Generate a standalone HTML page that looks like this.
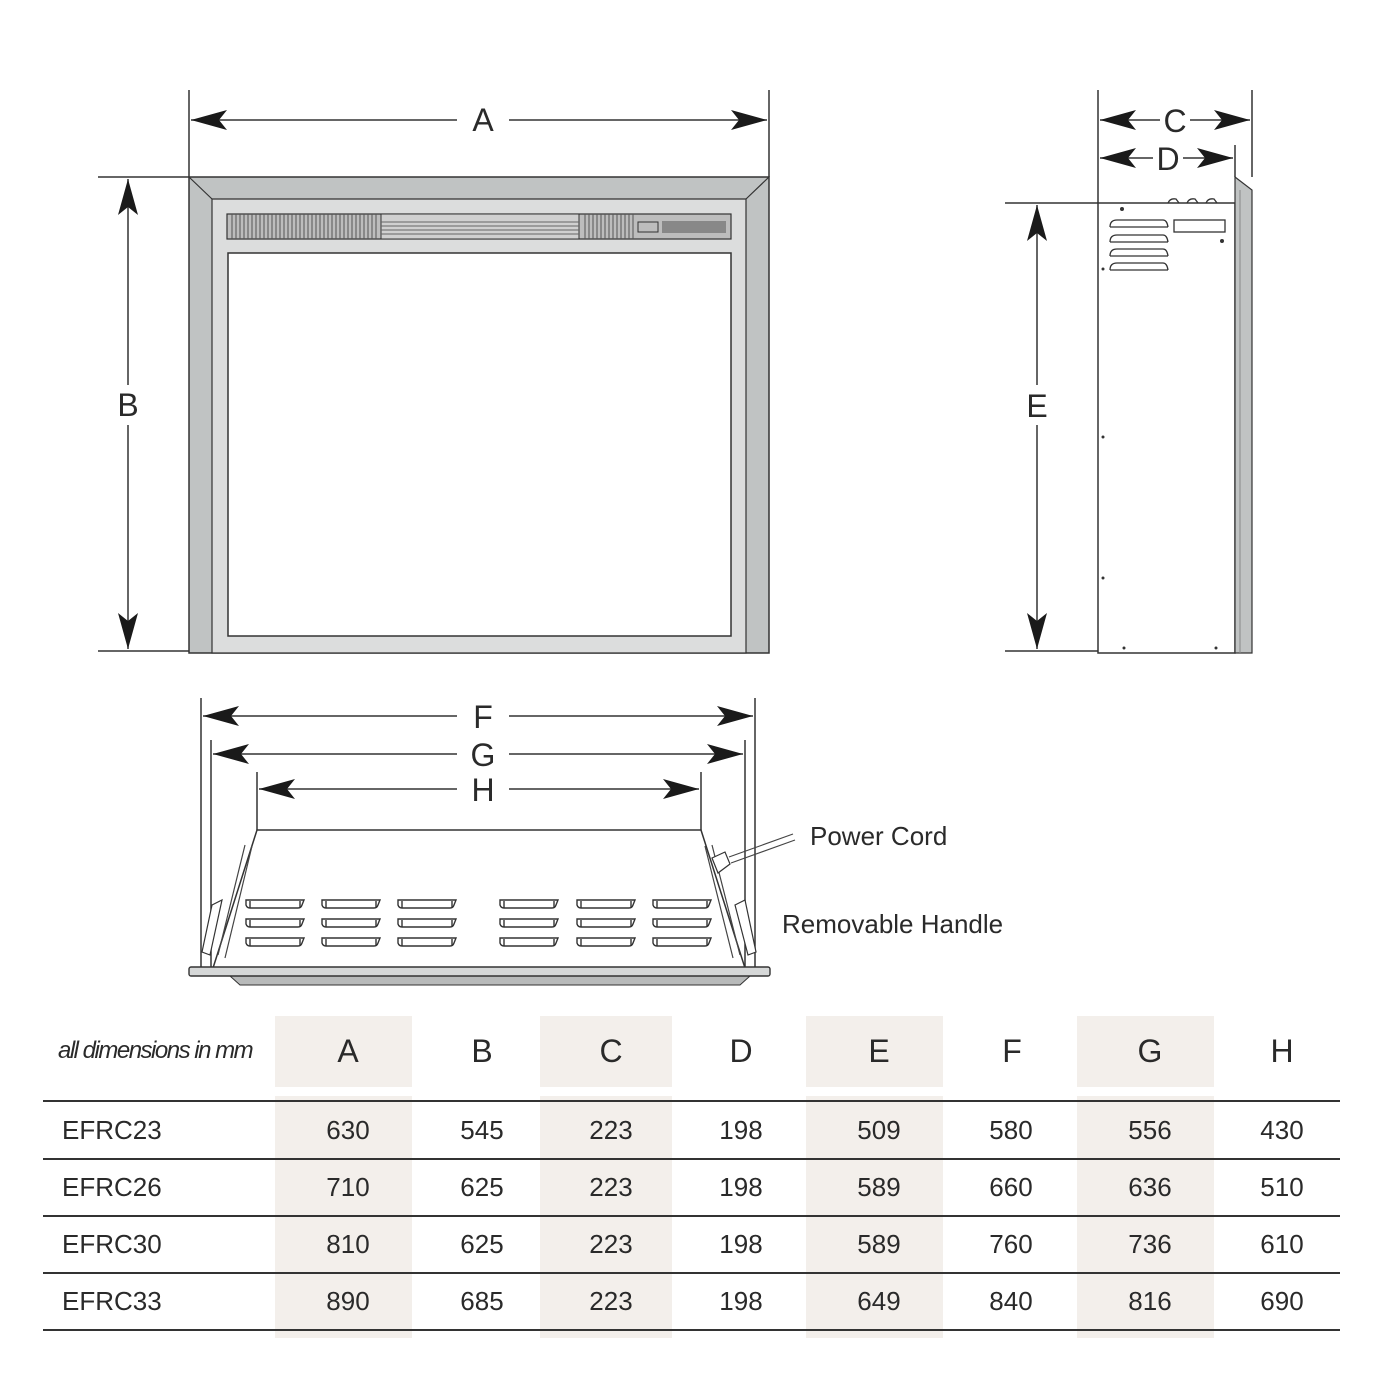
<!DOCTYPE html>
<html><head><meta charset="utf-8"><style>
html,body{margin:0;padding:0;background:#fff}
svg{display:block}
text{font-family:"Liberation Sans",sans-serif;fill:#2a2a2a}
</style></head><body>
<svg width="1400" height="1400" viewBox="0 0 1400 1400" xmlns="http://www.w3.org/2000/svg">
<defs>
<marker id="ar" markerUnits="userSpaceOnUse" markerWidth="40" markerHeight="24" refX="36" refY="12" orient="auto-start-reverse" viewBox="0 0 40 24">
<path d="M36,12 L0,2 L8,12 L0,22 Z" fill="#1a1a1a"/>
</marker>
</defs>
<g stroke="#333" stroke-width="1.5" fill="none">
<!-- A -->
<line x1="189" y1="90" x2="189" y2="177"/><line x1="769" y1="90" x2="769" y2="177"/>
<line x1="191" y1="120" x2="457" y2="120" marker-start="url(#ar)"/>
<line x1="509" y1="120" x2="767" y2="120" marker-end="url(#ar)"/>
<!-- B -->
<line x1="98" y1="177" x2="189" y2="177"/><line x1="98" y1="651" x2="189" y2="651"/>
<line x1="128" y1="179" x2="128" y2="385" marker-start="url(#ar)"/>
<line x1="128" y1="425" x2="128" y2="649" marker-end="url(#ar)"/>
<!-- C D -->
<line x1="1098" y1="90" x2="1098" y2="203"/><line x1="1252" y1="90" x2="1252" y2="177"/>
<line x1="1235" y1="145" x2="1235" y2="177"/>
<line x1="1100" y1="120" x2="1160" y2="120" marker-start="url(#ar)"/>
<line x1="1190" y1="120" x2="1250" y2="120" marker-end="url(#ar)"/>
<line x1="1100" y1="158" x2="1153" y2="158" marker-start="url(#ar)"/>
<line x1="1183" y1="158" x2="1233" y2="158" marker-end="url(#ar)"/>
<!-- E -->
<line x1="1005" y1="203" x2="1098" y2="203"/><line x1="1005" y1="651" x2="1098" y2="651"/>
<line x1="1037" y1="205" x2="1037" y2="385" marker-start="url(#ar)"/>
<line x1="1037" y1="425" x2="1037" y2="649" marker-end="url(#ar)"/>
<!-- F G H -->
<line x1="201" y1="698" x2="201" y2="968"/><line x1="755" y1="698" x2="755" y2="968"/>
<line x1="211" y1="740" x2="211" y2="968"/><line x1="745" y1="740" x2="745" y2="968"/>
<line x1="257" y1="772" x2="257" y2="830"/><line x1="701" y1="772" x2="701" y2="830"/>
<line x1="203" y1="716" x2="457" y2="716" marker-start="url(#ar)"/>
<line x1="509" y1="716" x2="753" y2="716" marker-end="url(#ar)"/>
<line x1="213" y1="754" x2="457" y2="754" marker-start="url(#ar)"/>
<line x1="509" y1="754" x2="743" y2="754" marker-end="url(#ar)"/>
<line x1="259" y1="789" x2="457" y2="789" marker-start="url(#ar)"/>
<line x1="509" y1="789" x2="699" y2="789" marker-end="url(#ar)"/>
</g>
<!-- front view -->
<rect x="189" y="177" width="580" height="476" fill="#c0c3c3" stroke="#333" stroke-width="1.5"/>
<polygon points="212,199 746,199 746,653 212,653" fill="#dcdddd" stroke="#333" stroke-width="1.2"/>
<line x1="189" y1="177" x2="212" y2="199" stroke="#333" stroke-width="1.2"/>
<line x1="769" y1="177" x2="746" y2="199" stroke="#333" stroke-width="1.2"/>
<rect x="227" y="214" width="504" height="25" fill="#bdbdbd" stroke="#333" stroke-width="1.2"/>
<g stroke="#555" stroke-width="1">
<path d="M232,214V239M236,214V239M240,214V239M244,214V239M248,214V239M252,214V239M256,214V239M260,214V239M264,214V239M268,214V239M272,214V239M276,214V239M280,214V239M284,214V239M288,214V239M292,214V239M296,214V239M300,214V239M304,214V239M308,214V239M312,214V239M316,214V239M320,214V239M324,214V239M328,214V239M332,214V239M336,214V239M340,214V239M344,214V239M348,214V239M352,214V239M356,214V239M360,214V239M364,214V239M368,214V239M372,214V239M376,214V239"/>
<path d="M585,214V239M589,214V239M593,214V239M597,214V239M601,214V239M605,214V239M609,214V239M613,214V239M617,214V239M621,214V239M625,214V239M629,214V239M633,214V239"/>
</g>
<rect x="381" y="214" width="198" height="25" fill="#d0d0d0" stroke="#333"/>
<g stroke="#666" stroke-width="1"><path d="M381,222H579M381,226H579M381,230H579M381,234H579"/></g>
<rect x="638" y="222" width="20" height="10" fill="none" stroke="#333"/>
<rect x="662" y="221" width="64" height="12" fill="#888"/>
<rect x="228" y="253" width="503" height="383" fill="#fff" stroke="#333" stroke-width="1.5"/>
<!-- side view -->
<rect x="1098" y="203" width="137" height="450" fill="#fff" stroke="#333" stroke-width="1.5"/>
<polygon points="1235,177 1252,190 1252,653 1235,653" fill="#c0c3c3" stroke="#333" stroke-width="1.2"/>
<line x1="1240" y1="190" x2="1240" y2="653" stroke="#888"/>
<g fill="none" stroke="#333" stroke-width="1.3">
<path d="M1110,227 q0,-7 7,-7 h46 q4,0 5,7 M1110,227 h58"/>
<path d="M1110,242 q0,-7 7,-7 h46 q4,0 5,7 M1110,242 h58"/>
<path d="M1110,256 q0,-7 7,-7 h46 q4,0 5,7 M1110,256 h58"/>
<path d="M1110,270 q0,-7 7,-7 h46 q4,0 5,7 M1110,270 h58"/>
<rect x="1174" y="220" width="51" height="12"/>
<path d="M1168,203 q2,-5 8,-4 l3,4 M1187,203 q2,-5 8,-4 l3,4 M1206,203 q2,-5 8,-4 l3,4"/>
</g>
<g fill="#333"><circle cx="1122" cy="209" r="2"/><circle cx="1222" cy="241" r="2"/><circle cx="1103" cy="269" r="1.5"/><circle cx="1103" cy="437" r="1.5"/><circle cx="1103" cy="578" r="1.5"/><circle cx="1124" cy="648" r="1.5"/><circle cx="1216" cy="648" r="1.5"/></g>
<!-- bottom view -->
<polygon points="257,830 701,830 745,968 213,968" fill="#fff" stroke="#333" stroke-width="1.5"/>
<g fill="none" stroke="#444" stroke-width="1.2">
<path d="M245,845 L218,955 M252,846 L225,958"/>
<path d="M712,845 L740,955 M705,846 L733,958"/>
</g>
<polygon points="212,905 222,900 210,955 202,952" fill="#fff" stroke="#333" stroke-width="1.2"/>
<polygon points="735,905 745,900 756,952 748,955" fill="#fff" stroke="#333" stroke-width="1.2"/>
<polygon points="712,858 725,852 730,864 718,873" fill="#fff" stroke="#333" stroke-width="1.2"/>
<g stroke="#444" stroke-width="1.1"><line x1="729" y1="857" x2="793" y2="834"/><line x1="731" y1="863" x2="795" y2="840"/></g>
<g fill="none" stroke="#333" stroke-width="1.4">
<g id="v"><path d="M246,900 h58 l-2,5 q-1,3 -4,3 h-48 q-3,0 -4,-3 z"/><path d="M250,901 v7 M300,901 v7"/></g>
<use href="#v" y="19"/><use href="#v" y="38"/>
<use href="#v" x="76"/><use href="#v" x="76" y="19"/><use href="#v" x="76" y="38"/>
<use href="#v" x="152"/><use href="#v" x="152" y="19"/><use href="#v" x="152" y="38"/>
<use href="#v" x="254"/><use href="#v" x="254" y="19"/><use href="#v" x="254" y="38"/>
<use href="#v" x="331"/><use href="#v" x="331" y="19"/><use href="#v" x="331" y="38"/>
<use href="#v" x="407"/><use href="#v" x="407" y="19"/><use href="#v" x="407" y="38"/>
</g>
<polygon points="230,976 750,976 740,985 240,985" fill="#b8baba" stroke="#333" stroke-width="1"/>
<rect x="189" y="967" width="581" height="9" rx="2" fill="#d6d8d8" stroke="#333" stroke-width="1.4"/>
<!-- labels -->
<g font-size="32" text-anchor="middle">
<text x="483" y="131">A</text><text x="128" y="416">B</text>
<text x="1175" y="132">C</text><text x="1168" y="170">D</text>
<text x="1037" y="417">E</text>
<text x="483" y="728">F</text><text x="483" y="766">G</text><text x="483" y="801">H</text>
</g>
<text x="810" y="845" font-size="26" fill="#333">Power Cord</text>
<text x="782" y="933" font-size="26" fill="#333">Removable Handle</text>
<!-- table -->
<g fill="#f3efeb">
<rect x="275" y="1016" width="137" height="71"/><rect x="540" y="1016" width="132" height="71"/><rect x="806" y="1016" width="137" height="71"/><rect x="1077" y="1016" width="137" height="71"/>
<rect x="275" y="1096" width="137" height="242"/><rect x="540" y="1096" width="132" height="242"/><rect x="806" y="1096" width="137" height="242"/><rect x="1077" y="1096" width="137" height="242"/>
</g>
<g stroke="#333" stroke-width="2">
<line x1="43" y1="1101" x2="1340" y2="1101"/><line x1="43" y1="1159" x2="1340" y2="1159"/><line x1="43" y1="1216" x2="1340" y2="1216"/><line x1="43" y1="1273" x2="1340" y2="1273"/><line x1="43" y1="1330" x2="1340" y2="1330"/>
</g>
<text x="58" y="1058" font-size="24" font-style="italic" letter-spacing="-1.5" fill="#333">all dimensions in mm</text>
<g font-size="32" text-anchor="middle">
<text x="348" y="1062">A</text><text x="482" y="1062">B</text><text x="611" y="1062">C</text><text x="741" y="1062">D</text><text x="879" y="1062">E</text><text x="1012" y="1062">F</text><text x="1150" y="1062">G</text><text x="1282" y="1062">H</text>
</g>
<g font-size="26" fill="#333">
<text x="62" y="1139">EFRC23</text><text x="62" y="1196">EFRC26</text><text x="62" y="1253">EFRC30</text><text x="62" y="1310">EFRC33</text>
</g>
<g font-size="26" fill="#333" text-anchor="middle">
<text x="348" y="1139">630</text><text x="482" y="1139">545</text><text x="611" y="1139">223</text><text x="741" y="1139">198</text><text x="879" y="1139">509</text><text x="1011" y="1139">580</text><text x="1150" y="1139">556</text><text x="1282" y="1139">430</text>
<text x="348" y="1196">710</text><text x="482" y="1196">625</text><text x="611" y="1196">223</text><text x="741" y="1196">198</text><text x="879" y="1196">589</text><text x="1011" y="1196">660</text><text x="1150" y="1196">636</text><text x="1282" y="1196">510</text>
<text x="348" y="1253">810</text><text x="482" y="1253">625</text><text x="611" y="1253">223</text><text x="741" y="1253">198</text><text x="879" y="1253">589</text><text x="1011" y="1253">760</text><text x="1150" y="1253">736</text><text x="1282" y="1253">610</text>
<text x="348" y="1310">890</text><text x="482" y="1310">685</text><text x="611" y="1310">223</text><text x="741" y="1310">198</text><text x="879" y="1310">649</text><text x="1011" y="1310">840</text><text x="1150" y="1310">816</text><text x="1282" y="1310">690</text>
</g>
</svg>
</body></html>
